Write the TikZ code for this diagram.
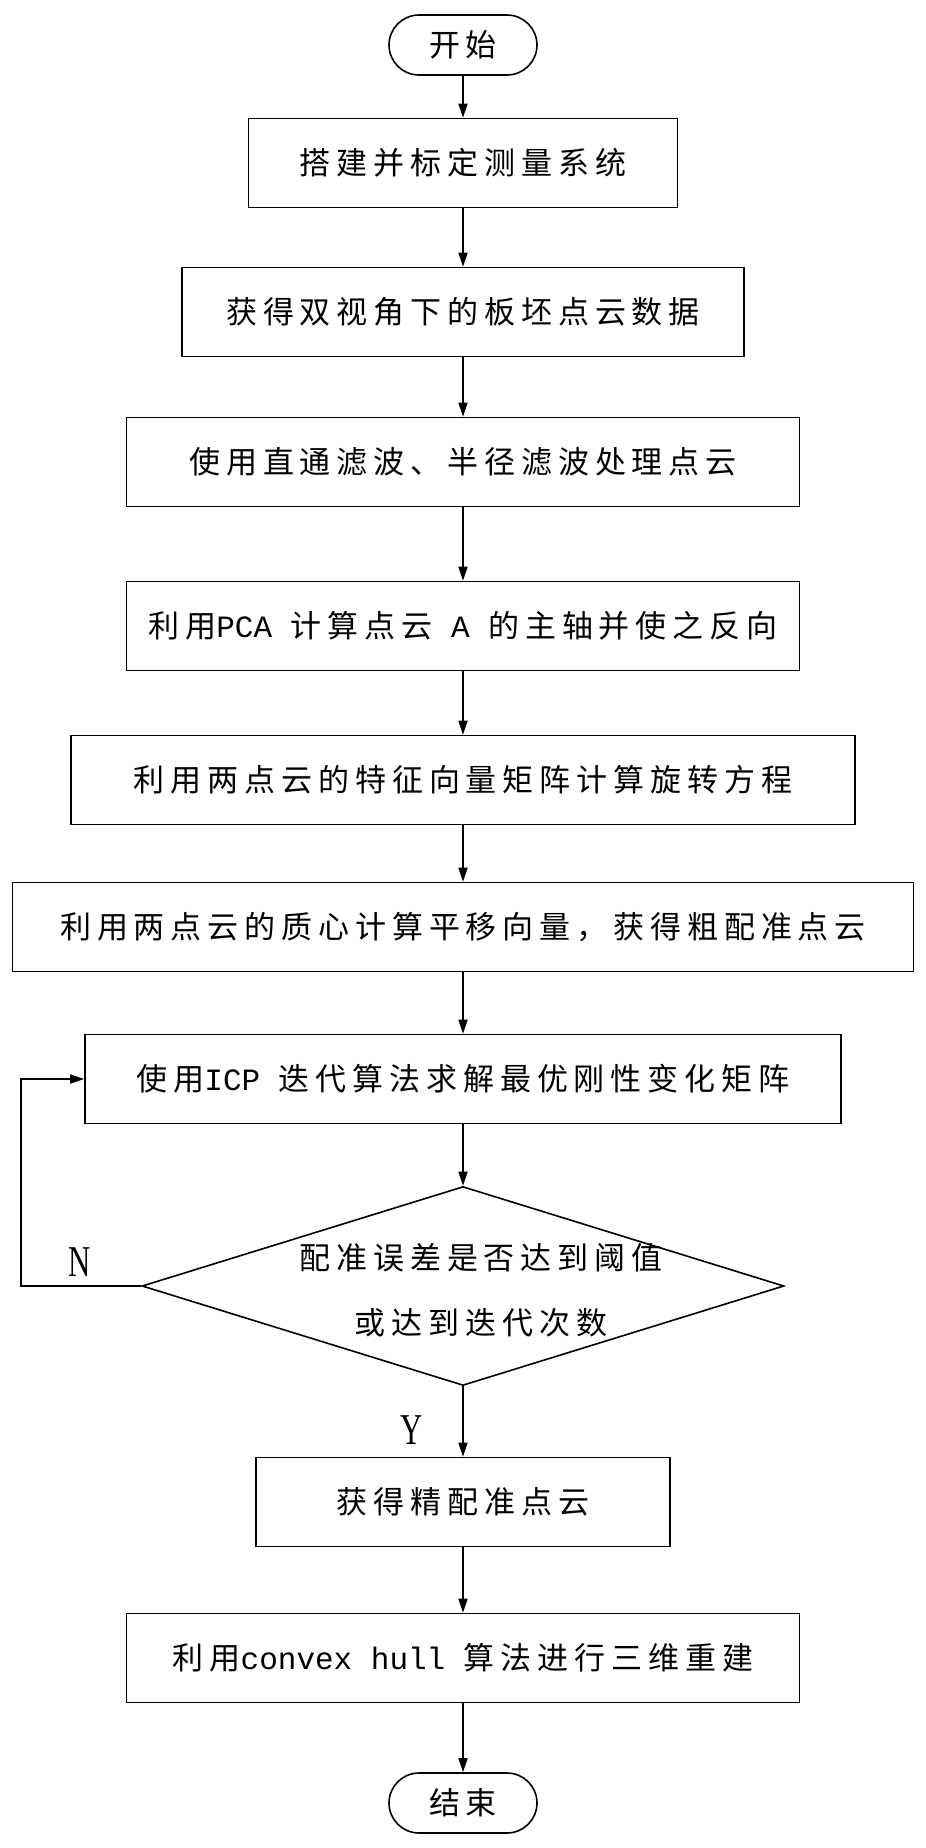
\documentclass[tikz,border=0pt]{standalone}
\usepackage{fontspec}
\setmainfont[LetterSpace=19]{Noto Sans CJK SC}
\newfontfamily\latnfont{Liberation Mono}
\newfontfamily\ynfont{Liberation Serif}
\usetikzlibrary{arrows.meta,shapes.geometric,shapes.misc}
\newcommand{\latn}[1]{{\latnfont #1}}

\begin{document}
\begin{tikzpicture}[x=1pt, y=-1pt, line width=1.6pt,
  every node/.style={font=\fontsize{31}{40}\selectfont},
  stepbox/.style={draw, rectangle, minimum height=89pt, inner sep=0pt},
  term/.style={draw, rounded rectangle, minimum width=148pt, minimum height=60pt, inner sep=0pt},
  yn/.style={font=\ynfont\fontsize{44}{44}\selectfont, inner sep=0pt},
  flow/.style={-{Triangle[length=14pt,width=9pt]}}]
  \useasboundingbox[fill=white] (0,0) rectangle (926,1848);

  \node[term] (start) at (463,45) {开始};

  \foreach \n/\y/\w/\t in {%
      s1/163/429/搭建并标定测量系统,%
      s2/312/562/获得双视角下的板坯点云数据,%
      s3/462/673/使用直通滤波、半径滤波处理点云,%
      s4/626/673/利用\latn{PCA }计算点云\latn{ A }的主轴并使之反向,%
      s5/780/784/利用两点云的特征向量矩阵计算旋转方程,%
      s6/927/901/利用两点云的质心计算平移向量，获得粗配准点云,%
      s7/1079/756/使用\latn{ICP }迭代算法求解最优刚性变化矩阵,%
      s8/1502/414/获得精配准点云,%
      s9/1658/673/利用\latn{convex hull }算法进行三维重建} {%
    \node[stepbox, minimum width=\w pt] (\n) at (463,\y) {\t};
  }

  % decision
  \node[draw, diamond, minimum width=642pt, minimum height=199pt, inner sep=0pt,
        font=\fontsize{31}{65}\selectfont] (dec) at (463,1286)
    {\smash{\raisebox{-9pt}{\makebox[0pt]{\hspace{36pt}\begin{tabular}{@{}c@{}}配准误差是否达到阈值\\或达到迭代次数\end{tabular}}}}};

  \node[term] (stop) at (463,1803) {结束};

  \foreach \a/\b in {start/s1,s1/s2,s2/s3,s3/s4,s4/s5,s5/s6,s6/s7,s7/dec,dec/s8,s8/s9,s9/stop}
    \draw[flow] (\a) -- (\b);

  % loop back
  \coordinate (back) at (21,1286);
  \draw[flow] (dec.west) -- (back) |- (s7.west);

  \node[yn] (nlab) at (80,1262) {\scalebox{0.7}[1]{N}};
  \node[yn] (ylab) at (412,1430) {\scalebox{0.7}[1]{Y}};
\end{tikzpicture}
\end{document}
